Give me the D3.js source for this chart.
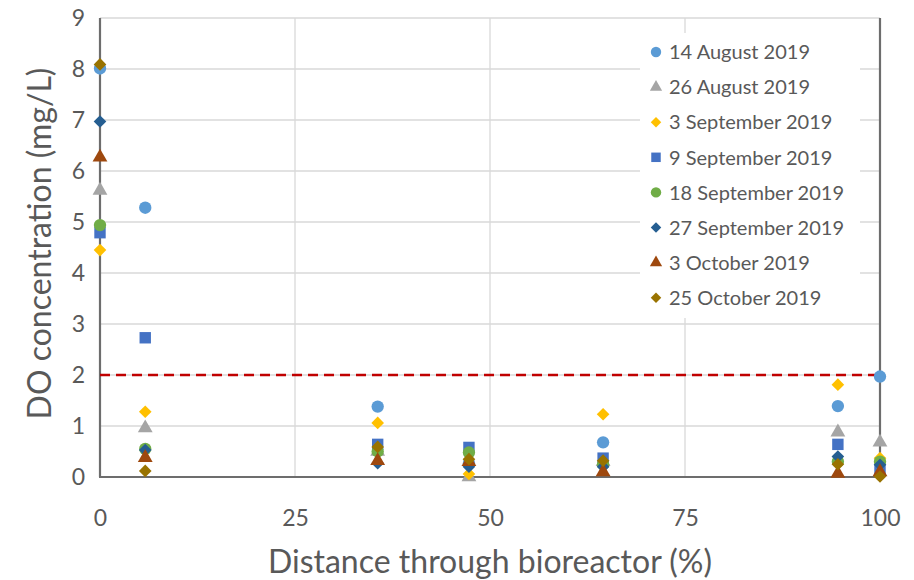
<!DOCTYPE html>
<html>
<head>
<meta charset="utf-8">
<script src="https://cdn.jsdelivr.net/npm/d3@7"></script>
<style>
  html, body { margin: 0; padding: 0; background: #fff; }
  svg { display: block; font-family: Lato, "Open Sans", sans-serif; }
</style>
</head>
<body>
<svg id="chart" width="914" height="580"></svg>
<script>
// Sampling positions along the bioreactor (% of length)
const distances = [0, 5.8, 35.6, 47.3, 64.5, 94.6, 100];

// Dissolved oxygen (mg/L) per sampling date, one value per distance
const seriesNames = [
  "14 August 2019", "26 August 2019", "3 September 2019", "9 September 2019",
  "18 September 2019", "27 September 2019", "3 October 2019", "25 October 2019"
];
const aug14 = [8.01, 5.28, 1.38, 0.27, 0.68, 1.39, 1.97];
const aug26 = [5.62, 0.96, 0.50, 0.00, 0.30, 0.88, 0.68];
const sep03 = [4.45, 1.28, 1.06, 0.06, 1.23, 1.81, 0.37];
const sep09 = [4.79, 2.73, 0.64, 0.58, 0.37, 0.64, 0.14];
const sep18 = [4.94, 0.55, 0.50, 0.48, 0.25, 0.30, 0.30];
const sep27 = [6.97, 0.53, 0.27, 0.20, 0.20, 0.40, 0.24];
const oct03 = [6.27, 0.38, 0.32, 0.30, 0.10, 0.07, 0.10];
const oct25 = [8.09, 0.12, 0.59, 0.35, 0.32, 0.25, 0.01];
const seriesValues = [aug14, aug26, sep03, sep09, sep18, sep27, oct03, oct25];

const seriesColors = ["#5B9BD5", "#A5A5A5", "#FFC000", "#4472C4", "#70AD47", "#255E91", "#9E480E", "#997300"];
const seriesShapes = ["circle", "triangle", "diamond", "square", "circle", "diamond", "triangle", "diamond"];

const xTicks = [0, 25, 50, 75, 100];
const yTicks = [0, 1, 2, 3, 4, 5, 6, 7, 8, 9];
const threshold = 2;

const svg = d3.select("#chart");
const plot = { left: 100, right: 880, top: 18, bottom: 477 };

const x = d3.scaleLinear().domain([0, 100]).range([plot.left, plot.right]);
const y = d3.scaleLinear().domain([0, 9]).range([plot.bottom, plot.top]);

// Gridlines
const grid = svg.append("g");
grid.selectAll("line.h").data(yTicks.slice(1)).join("line")
  .attr("x1", plot.left).attr("x2", plot.right)
  .attr("y1", d => y(d)).attr("y2", d => y(d))
  .attr("stroke", "#d9d9d9").attr("stroke-width", 1.3);
grid.selectAll("line.v").data(xTicks.slice(1, -1)).join("line")
  .attr("x1", d => x(d)).attr("x2", d => x(d))
  .attr("y1", plot.top).attr("y2", plot.bottom)
  .attr("stroke", "#d9d9d9").attr("stroke-width", 1.3);

// Axes
const xAxis = d3.axisBottom(x).tickValues(xTicks).tickSize(0).tickPadding(49);
const yAxis = d3.axisLeft(y).tickValues(yTicks).tickSize(0).tickPadding(15);

const gx = svg.append("g").attr("transform", `translate(0,${plot.bottom})`).call(xAxis);
const gy = svg.append("g").attr("transform", `translate(${plot.left},0)`).call(yAxis);
[gx, gy].forEach(g => {
  g.select(".domain").remove();
  g.selectAll("text").attr("fill", "#595959").style("font-size", "23px")
    .style("font-family", "Lato, 'Open Sans', sans-serif");
});
gx.selectAll("text").attr("dy", "0");

// Axis lines
svg.append("line").attr("x1", plot.left).attr("x2", plot.left)
  .attr("y1", plot.top).attr("y2", plot.bottom)
  .attr("stroke", "#6d6d6d").attr("stroke-width", 2.2);
svg.append("line").attr("x1", plot.right).attr("x2", plot.right)
  .attr("y1", plot.top).attr("y2", plot.bottom)
  .attr("stroke", "#6d6d6d").attr("stroke-width", 2.2);
svg.append("line").attr("x1", plot.left - 1).attr("x2", plot.right + 1)
  .attr("y1", plot.bottom).attr("y2", plot.bottom)
  .attr("stroke", "#6d6d6d").attr("stroke-width", 2.2);

// Threshold line
svg.append("line")
  .attr("x1", x(0)).attr("x2", x(100))
  .attr("y1", y(threshold)).attr("y2", y(threshold))
  .attr("stroke", "#C00000").attr("stroke-width", 2.4)
  .attr("stroke-dasharray", "10,6");

// Marker shapes: a square diamond (rotated square) instead of d3's tall one
const squareDiamond = {
  draw(ctx, size) {
    const r = Math.sqrt(size / 2);
    ctx.moveTo(0, -r); ctx.lineTo(r, 0); ctx.lineTo(0, r); ctx.lineTo(-r, 0); ctx.closePath();
  }
};
const symbolTypes = { circle: d3.symbolCircle, triangle: d3.symbolTriangle, diamond: squareDiamond, square: d3.symbolSquare };
const plotSizes = { circle: 120, triangle: 95, diamond: 80, square: 130 };
const legendSizes = { circle: 85, triangle: 65, diamond: 55, square: 90 };

const rows = seriesNames.map((name, i) => ({
  name, color: seriesColors[i], shape: seriesShapes[i],
  points: distances.map((d, j) => ({ d, v: seriesValues[i][j] }))
}));

const marks = svg.append("g");
rows.forEach(r => {
  marks.append("g").selectAll("path").data(r.points).join("path")
    .attr("transform", p => `translate(${x(p.d)},${y(p.v)})`)
    .attr("d", d3.symbol(symbolTypes[r.shape], plotSizes[r.shape])())
    .attr("fill", r.color);
});

// Legend
const legend = svg.append("g").attr("transform", "translate(640,33)");
legend.append("rect").attr("width", 220).attr("height", 285).attr("fill", "#fff");
const item = legend.selectAll("g.item").data(rows).join("g")
  .attr("transform", (d, i) => `translate(16,${19 + i * 35.1})`);
item.append("path")
  .attr("d", d => d3.symbol(symbolTypes[d.shape], legendSizes[d.shape])())
  .attr("fill", d => d.color);
item.append("text").attr("x", 13).attr("dy", "0.36em")
  .attr("fill", "#595959").style("font-size", "20px")
  .text(d => d.name);

// Axis titles
svg.append("text")
  .attr("x", x(50)).attr("y", 562).attr("dy", "0.35em")
  .attr("text-anchor", "middle").attr("fill", "#595959")
  .style("font-size", "32px")
  .text("Distance through bioreactor (%)");
svg.append("text")
  .attr("transform", `translate(40,${(plot.top + plot.bottom) / 2 - 4}) rotate(-90)`)
  .attr("text-anchor", "middle").attr("dy", "0.35em").attr("fill", "#595959")
  .style("font-size", "32px")
  .text("DO concentration (mg/L)");
</script>
</body>
</html>
